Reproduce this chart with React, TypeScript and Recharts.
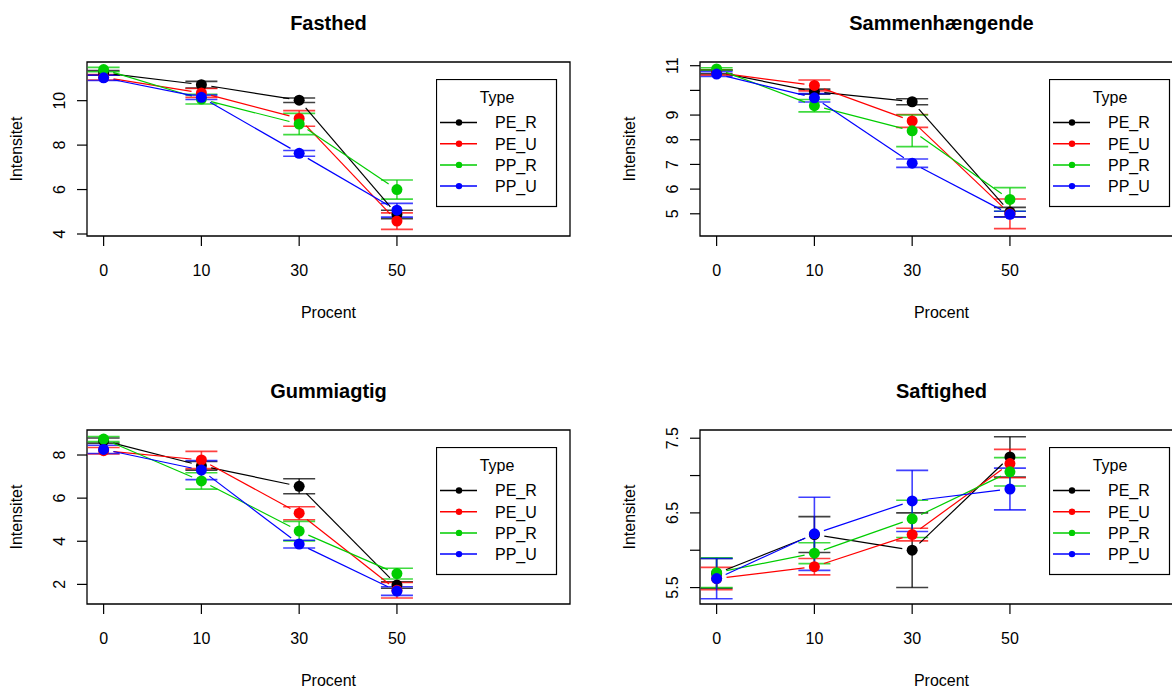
import React from 'react'
import {
  ComposedChart,
  Line,
  XAxis,
  YAxis,
  ErrorBar,
  ReferenceArea,
  Legend,
} from 'recharts'

const FONT = '"Liberation Sans", Arial, Helvetica, sans-serif'

// categories on the x axis (Procent) and the four types
const categories = ['0', '10', '30', '50']
const seriesNames = ['PE_R', 'PE_U', 'PP_R', 'PP_U']
const seriesColors = ['#000000', '#FF0000', '#00CD00', '#0000FF']

// Fasthed: mean and standard error per type (rows follow seriesNames)
const fasthedMeans = [
  [11.25, 10.72, 10.02, 4.88],
  [11.05, 10.35, 9.2, 4.58],
  [11.4, 10.07, 8.95, 6.0],
  [11.03, 10.15, 7.63, 5.07],
]
const fasthedSE = [
  [0.1, 0.15, 0.1, 0.19],
  [0.12, 0.2, 0.35, 0.37],
  [0.1, 0.22, 0.48, 0.43],
  [0.12, 0.1, 0.13, 0.31],
]
const fasthedTicks = [4, 6, 8, 10]
const fasthedTickLabels = ['4', '6', '8', '10']
const fasthedRange = [3.91, 11.74]

// Sammenhængende
const sammenMeans = [
  [10.75, 9.95, 9.54, 5.07],
  [10.72, 10.2, 8.76, 5.0],
  [10.87, 9.38, 8.36, 5.58],
  [10.66, 9.7, 7.05, 4.98],
]
const sammenSE = [
  [0.08, 0.1, 0.12, 0.19],
  [0.1, 0.22, 0.26, 0.6],
  [0.05, 0.25, 0.64, 0.48],
  [0.1, 0.17, 0.17, 0.12],
]
const sammenTicks = [5, 6, 7, 8, 9, 10, 11]
const sammenTickLabels = ['5', '6', '7', '8', '9', '', '11']
const sammenRange = [4.1, 11.15]

// Gummiagtig
const gummiMeans = [
  [8.67, 7.5, 6.55, 1.97],
  [8.2, 7.77, 5.3, 1.73],
  [8.74, 6.8, 4.47, 2.5],
  [8.26, 7.3, 3.87, 1.69],
]
const gummiSE = [
  [0.12, 0.2, 0.35, 0.15],
  [0.15, 0.4, 0.3, 0.36],
  [0.12, 0.38, 0.45, 0.25],
  [0.19, 0.44, 0.18, 0.2],
]
const gummiTicks = [2, 4, 6, 8]
const gummiTickLabels = ['2', '4', '6', '8']
const gummiRange = [1.09, 9.16]

// Saftighed
const saftMeans = [
  [5.69, 6.21, 6.0, 7.25],
  [5.62, 5.78, 6.21, 7.16],
  [5.7, 5.96, 6.42, 7.05],
  [5.62, 6.22, 6.66, 6.82],
]
const saftSE = [
  [0.2, 0.24, 0.5, 0.27],
  [0.15, 0.11, 0.085, 0.19],
  [0.2, 0.14, 0.25, 0.19],
  [0.27, 0.49, 0.41, 0.28],
]
const saftTicks = [5.5, 6, 6.5, 7, 7.5]
const saftTickLabels = ['5.5', '', '6.5', '', '7.5']
const saftRange = [5.28, 7.61]

const xRange = [0.83, 5.77]

const CHART_W = 620
const CHART_H = 300
const GAP = 10

function buildRows(means: number[][], ses: number[][]) {
  return categories.map((c, i) => {
    const row: Record<string, number | string> = { pos: i + 1, cat: c }
    seriesNames.forEach((s, k) => {
      row[s] = means[k][i]
      row[s + '_se'] = ses[k][i]
    })
    return row
  })
}

// point plus the line to the next point, cut short near both ends (R type="b")
const makeDot = (color: string) => (props: any) => {
  const { cx, cy, index, points } = props
  let seg = null
  if (points && index < points.length - 1) {
    const nx = points[index + 1].x
    const ny = points[index + 1].y
    const dx = nx - cx
    const dy = ny - cy
    const len = Math.hypot(dx, dy)
    if (len > 2 * GAP) {
      const ux = dx / len
      const uy = dy / len
      seg = (
        <line
          x1={cx + ux * GAP}
          y1={cy + uy * GAP}
          x2={nx - ux * GAP}
          y2={ny - uy * GAP}
          stroke={color}
          strokeWidth={1.2}
        />
      )
    }
  }
  return (
    <g key={`dot-${index}`}>
      {seg}
      <circle cx={cx} cy={cy} r={5.5} fill={color} />
    </g>
  )
}

function LegendBox() {
  return (
    <svg width={122} height={129} style={{ display: 'block' }}>
      <rect x={0.5} y={0.5} width={120} height={127} fill="#fff" stroke="#000" strokeWidth={1.2} />
      <text x={61} y={23.5} textAnchor="middle" fontSize={16} fontFamily={FONT} fill="#000">
        Type
      </text>
      {seriesNames.map((s, k) => {
        const cy = 43.5 + k * 21.2
        return (
          <g key={s}>
            <line x1={4} x2={41} y1={cy} y2={cy} stroke={seriesColors[k]} strokeWidth={1.5} />
            <circle cx={23} cy={cy} r={3.2} fill={seriesColors[k]} />
            <text x={59} y={cy + 5.8} fontSize={16} fontFamily={FONT} fill="#000">
              {s}
            </text>
          </g>
        )
      })}
    </svg>
  )
}

function makeYTick(ticks: number[], labels: string[]) {
  return (props: any) => {
    const { x, y, payload } = props
    const i = ticks.indexOf(payload.value)
    const label = i >= 0 ? labels[i] : ''
    const tx = x - 10
    return (
      <text
        x={tx}
        y={y}
        transform={`rotate(-90 ${tx} ${y})`}
        textAnchor="middle"
        fontSize={16}
        fontFamily={FONT}
        fill="#000"
      >
        {label}
      </text>
    )
  }
}

interface PanelProps {
  title: string
  means: number[][]
  ses: number[][]
  ticks: number[]
  tickLabels: string[]
  range: number[]
  left: number
  top: number
}

function Panel({ title, means, ses, ticks, tickLabels, range, left, top }: PanelProps) {
  const rows = buildRows(means, ses)
  return (
    <div style={{ position: 'absolute', left, top, width: CHART_W, height: 368 }}>
      <ComposedChart
        width={CHART_W}
        height={CHART_H}
        data={rows}
        margin={{ top: 62, right: 50, bottom: 24, left: 47 }}
      >
        <XAxis
          type="number"
          dataKey="pos"
          domain={xRange}
          ticks={[1, 2, 3, 4]}
          tickFormatter={(v: number) => categories[v - 1]}
          axisLine={false}
          tickSize={10}
          tickLine={{ stroke: '#000', strokeWidth: 1.2 }}
          tickMargin={19}
          tick={{ fontSize: 16, fill: '#000', fontFamily: FONT }}
          height={40}
          allowDataOverflow
        />
        <YAxis
          type="number"
          domain={range}
          ticks={ticks}
          axisLine={false}
          tickSize={10}
          tickLine={{ stroke: '#000', strokeWidth: 1.2 }}
          tick={makeYTick(ticks, tickLabels)}
          width={40}
          allowDataOverflow
        />
        <ReferenceArea
          x1={xRange[0]}
          x2={xRange[1]}
          y1={range[0]}
          y2={range[1]}
          fill="none"
          fillOpacity={0}
          stroke="#000"
          strokeWidth={1.3}
          ifOverflow="visible"
        />
        {seriesNames.map((s, k) => (
          <Line
            key={s}
            dataKey={s}
            name={s}
            stroke="none"
            dot={makeDot(seriesColors[k])}
            activeDot={false}
            isAnimationActive={false}
          >
            <ErrorBar
              dataKey={s + '_se'}
              direction="y"
              width={16}
              stroke={seriesColors[k]}
              strokeOpacity={0.75}
              strokeWidth={1.6}
            />
          </Line>
        ))}
        <Legend
          layout="vertical"
          align="center"
          verticalAlign="middle"
          content={() => <LegendBox />}
          wrapperStyle={{ left: 436, top: 79, width: 122, height: 129 }}
        />
      </ComposedChart>
      <svg
        width={CHART_W}
        height={368}
        style={{ position: 'absolute', left: 0, top: 0, pointerEvents: 'none' }}
      >
        <text x={328.5} y={29.7} textAnchor="middle" fontSize={20} fontWeight="bold" fontFamily={FONT} fill="#000">
          {title}
        </text>
        <text x={328.5} y={318} textAnchor="middle" fontSize={16} fontFamily={FONT} fill="#000">
          Procent
        </text>
        <text
          x={21.5}
          y={149}
          transform="rotate(-90 21.5 149)"
          textAnchor="middle"
          fontSize={16}
          fontFamily={FONT}
          fill="#000"
        >
          Intensitet
        </text>
      </svg>
    </div>
  )
}

export default function App() {
  return (
    <div
      style={{
        position: 'absolute',
        left: 0,
        top: 0,
        width: 1172,
        height: 689,
        overflow: 'hidden',
        background: '#fff',
      }}
    >
      <Panel title="Fasthed" means={fasthedMeans} ses={fasthedSE} ticks={fasthedTicks} tickLabels={fasthedTickLabels} range={fasthedRange} left={0} top={0} />
      <Panel title="Sammenhængende" means={sammenMeans} ses={sammenSE} ticks={sammenTicks} tickLabels={sammenTickLabels} range={sammenRange} left={613} top={0} />
      <Panel title="Gummiagtig" means={gummiMeans} ses={gummiSE} ticks={gummiTicks} tickLabels={gummiTickLabels} range={gummiRange} left={0} top={368} />
      <Panel title="Saftighed" means={saftMeans} ses={saftSE} ticks={saftTicks} tickLabels={saftTickLabels} range={saftRange} left={613} top={368} />
    </div>
  )
}
